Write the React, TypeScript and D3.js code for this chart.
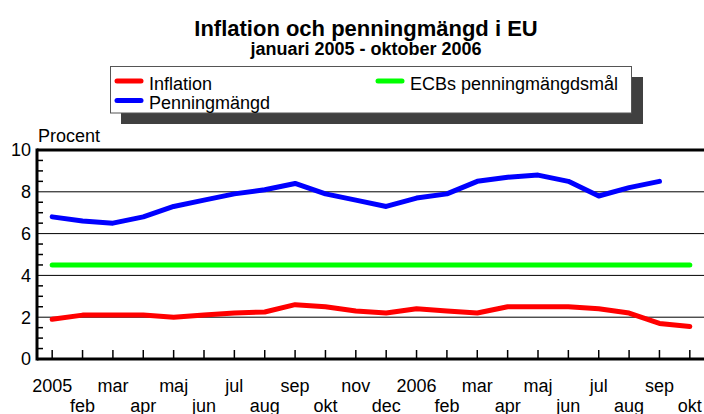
import * as d3 from "d3";

// Månader jan 2005 - okt 2006
const monthLabels = [
  "2005", "feb", "mar", "apr", "maj", "jun", "jul", "aug", "sep", "okt", "nov", "dec",
  "2006", "feb", "mar", "apr", "maj", "jun", "jul", "aug", "sep", "okt",
];
const inflation = [
  1.9, 2.1, 2.1, 2.1, 2.0, 2.1, 2.2, 2.25, 2.6, 2.5, 2.3, 2.2,
  2.4, 2.3, 2.2, 2.5, 2.5, 2.5, 2.4, 2.2, 1.7, 1.55,
];
// penningmängd saknas för okt 2006
const moneySupply = [
  6.8, 6.6, 6.5, 6.8, 7.3, 7.6, 7.9, 8.1, 8.4, 7.9, 7.6, 7.3,
  7.7, 7.9, 8.5, 8.7, 8.8, 8.5, 7.8, 8.2, 8.5,
];
const ecbTarget = 4.5;
const yTicks = [0, 2, 4, 6, 8, 10];

const legendItems = [
  { label: "Inflation", color: "#ff0000", col: 0, row: 0 },
  { label: "Penningmängd", color: "#0000ff", col: 0, row: 1 },
  { label: "ECBs penningmängdsmål", color: "#00ff00", col: 1, row: 0 },
];

const App = () => {
  const width = 704,
    height = 414,
    marginLeft = 37,
    marginRight = -1,
    marginTop = 150,
    marginBottom = 55;
  const font = "'Liberation Sans', Arial, Helvetica, sans-serif";

  const x = d3
    .scalePoint<number>()
    .domain(d3.range(monthLabels.length))
    .range([marginLeft, width - marginRight])
    .padding(0.5);
  const y = d3.scaleLinear([0, 10], [height - marginBottom, marginTop]);

  const line = d3
    .line<number>()
    .x((d, i) => x(i)!)
    .y((d) => y(d));

  const minorTicks = d3.range(0.5, 10, 0.5).filter((v) => v % 2 !== 0);
  const x0 = x(0)!;
  const xN = x(monthLabels.length - 1)!;

  return (
    <svg
      width={width}
      height={height}
      style={{ position: "absolute", left: 0, top: 0, background: "#fff" }}
      fontFamily={font}
    >
      {/* rubrik */}
      <text x={366} y={36} textAnchor="middle" fontSize={22} fontWeight="bold">
        Inflation och penningmängd i EU
      </text>
      <text x={366} y={55} textAnchor="middle" fontSize={18} fontWeight="bold">
        januari 2005 - oktober 2006
      </text>

      {/* legend */}
      <rect x={121} y={77} width={522} height={47} fill="#404040" />
      <rect x={110.5} y={66.5} width={521} height={46.5} fill="#fff" stroke="#555" strokeWidth={1} />
      {legendItems.map((d) => {
        const lx = d.col === 0 ? 115 : 376;
        const ly = 81 + d.row * 19.5;
        return (
          <g key={d.label}>
            <line
              x1={lx + 2}
              x2={lx + 26}
              y1={ly}
              y2={ly}
              stroke={d.color}
              strokeWidth={5}
              strokeLinecap="round"
            />
            <text x={lx + 34} y={ly + 8.5} fontSize={18}>
              {d.label}
            </text>
          </g>
        );
      })}

      {/* y-axelns enhet */}
      <text x={38} y={142} fontSize={18}>
        Procent
      </text>

      {/* stödlinjer */}
      {yTicks
        .filter((t) => t > 0 && t < 10)
        .map((t) => (
          <line key={t} x1={marginLeft} x2={width} y1={y(t)} y2={y(t)} stroke="#000" strokeWidth={1} />
        ))}

      {/* små streck på y-axeln */}
      {minorTicks.map((t) => (
        <line key={t} x1={marginLeft} x2={marginLeft + 6} y1={y(t)} y2={y(t)} stroke="#000" strokeWidth={1.5} />
      ))}

      {/* streck på x-axeln */}
      {monthLabels.map((m, i) => (
        <line
          key={i}
          x1={x(i)}
          x2={x(i)}
          y1={y(0)}
          y2={y(0) - 9}
          stroke="#000"
          strokeWidth={1.5}
        />
      ))}

      {/* ram */}
      <line x1={marginLeft} x2={width} y1={y(10)} y2={y(10)} stroke="#000" strokeWidth={3} />
      <line x1={marginLeft} x2={width} y1={y(0)} y2={y(0)} stroke="#000" strokeWidth={3} />
      <line x1={marginLeft} x2={marginLeft} y1={y(10) - 1.5} y2={y(0) + 1.5} stroke="#000" strokeWidth={3} />

      {/* y-etiketter */}
      {yTicks.map((t) => (
        <text key={t} x={31} y={y(t)} dy="0.35em" textAnchor="end" fontSize={18}>
          {t}
        </text>
      ))}

      {/* x-etiketter, två rader */}
      {monthLabels.map((m, i) => (
        <text key={i} x={x(i)} y={i % 2 === 0 ? 392 : 411.5} textAnchor="middle" fontSize={18}>
          {m}
        </text>
      ))}

      {/* serier */}
      <line
        x1={x0}
        x2={xN}
        y1={y(ecbTarget)}
        y2={y(ecbTarget)}
        stroke="#00ff00"
        strokeWidth={5}
        strokeLinecap="round"
      />
      <path
        d={line(moneySupply) ?? ""}
        fill="none"
        stroke="#0000ff"
        strokeWidth={5}
        strokeLinejoin="round"
        strokeLinecap="round"
      />
      <path
        d={line(inflation) ?? ""}
        fill="none"
        stroke="#ff0000"
        strokeWidth={5}
        strokeLinejoin="round"
        strokeLinecap="round"
      />
    </svg>
  );
};

export default App;
